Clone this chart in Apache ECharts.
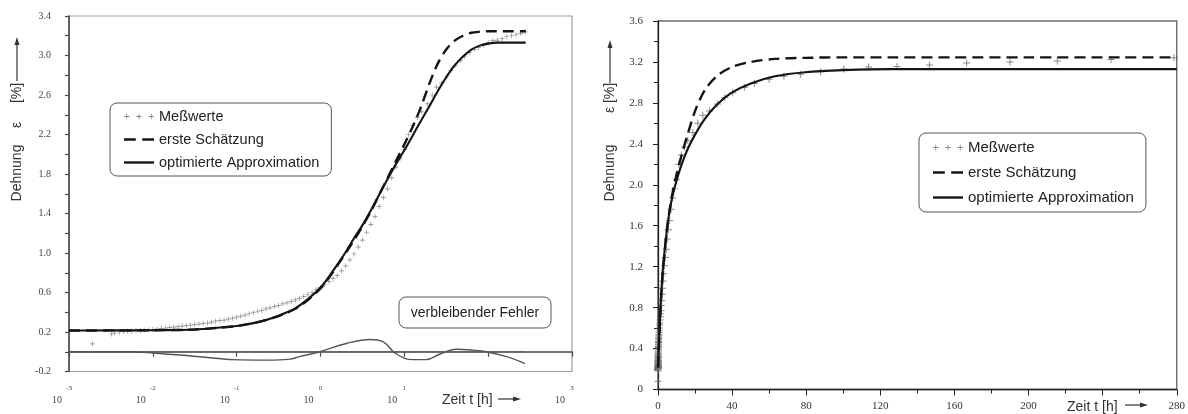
<!DOCTYPE html>
<html>
<head>
<meta charset="utf-8">
<script src="https://cdn.jsdelivr.net/npm/echarts@6/dist/echarts.min.js"></script>
<style>
  html, body { margin: 0; padding: 0; background: #fff; }
  #chart { width: 1188px; height: 414px; }
</style>
</head>
<body>
<div id="chart"></div>
<script>
// Messzeitpunkte t [h] und gemessene Dehnung ε [%]
const messZeit = [
  0.0019, 0.0032, 0.0035, 0.0040, 0.0045, 0.0050, 0.0056, 0.0063, 0.0071, 0.0079,
  0.0089, 0.010, 0.0112, 0.0126, 0.0141, 0.0158, 0.0178, 0.020, 0.0224, 0.0251,
  0.0282, 0.0316, 0.0355, 0.0398, 0.0447, 0.0501, 0.0562, 0.0631, 0.0708, 0.0794,
  0.0891, 0.100, 0.112, 0.126, 0.141, 0.158, 0.178, 0.200, 0.224, 0.251,
  0.282, 0.316, 0.355, 0.398, 0.447, 0.501, 0.562, 0.631, 0.708, 0.794,
  0.891, 1.00, 1.12, 1.26, 1.41, 1.58, 1.78, 2.00, 2.24, 2.51,
  2.82, 3.16, 3.55, 3.98, 4.47, 5.01, 5.62, 6.31, 7.08, 7.94,
  8.91, 10.0, 11.2, 12.6, 14.3, 16.1, 18.8, 21.5, 24.2, 27.8,
  32.2, 36.0, 40.3, 46.6, 52, 60, 68, 77, 87.8, 100.3,
  113.7, 129, 146.5, 166.6, 190, 215.5, 244.5, 278.5
];
const messDehnung = [
  0.08, 0.18, 0.19, 0.20, 0.205, 0.21, 0.21, 0.215, 0.215, 0.22,
  0.22, 0.225, 0.23, 0.235, 0.24, 0.245, 0.25, 0.255, 0.26, 0.265,
  0.27, 0.275, 0.28, 0.285, 0.29, 0.30, 0.31, 0.315, 0.32, 0.33,
  0.34, 0.35, 0.36, 0.37, 0.385, 0.395, 0.41, 0.42, 0.435, 0.445,
  0.46, 0.47, 0.485, 0.495, 0.51, 0.525, 0.54, 0.56, 0.58, 0.60,
  0.63, 0.65, 0.68, 0.71, 0.74, 0.77, 0.82, 0.87, 0.93, 0.99,
  1.06, 1.13, 1.21, 1.29, 1.37, 1.47, 1.56, 1.65, 1.76, 1.87,
  1.96, 2.05, 2.20, 2.29, 2.37, 2.43, 2.51, 2.60, 2.68, 2.72,
  2.79, 2.85, 2.90, 2.95, 2.99, 3.03, 3.06, 3.08, 3.105, 3.13,
  3.15, 3.155, 3.17, 3.19, 3.20, 3.21, 3.225, 3.24
];

// Modellkurven: Stützstellen t [h]
const kurvenZeit = [
  0.001, 0.00316, 0.01, 0.0316, 0.1, 0.126, 0.158, 0.2, 0.251, 0.316,
  0.398, 0.501, 0.631, 0.794, 1.0, 1.26, 1.58, 2.0, 2.51, 3.16,
  3.98, 5.01, 6.31, 7.94, 10, 12.6, 15.8, 20, 25.1, 31.6,
  39.8, 50.1, 63.1, 79.4, 100, 126, 158, 200, 251, 280
];
const ersteSchaetzung = [
  0.215, 0.216, 0.218, 0.225, 0.26, 0.275, 0.29, 0.31, 0.335, 0.36,
  0.395, 0.435, 0.49, 0.56, 0.64, 0.75, 0.87, 1.00, 1.13, 1.27,
  1.42, 1.59, 1.76, 1.93, 2.10, 2.28, 2.48, 2.72, 2.92, 3.06,
  3.15, 3.20, 3.23, 3.24, 3.245, 3.245, 3.245, 3.245, 3.245, 3.245
];
const optimierteApprox = [
  0.215, 0.216, 0.218, 0.225, 0.26, 0.275, 0.29, 0.31, 0.335, 0.365,
  0.40, 0.44, 0.50, 0.57, 0.65, 0.76, 0.88, 1.01, 1.15, 1.28,
  1.43, 1.59, 1.75, 1.90, 2.04, 2.19, 2.34, 2.49, 2.64, 2.78,
  2.90, 2.99, 3.06, 3.10, 3.12, 3.13, 3.13, 3.13, 3.13, 3.13
];

// verbleibender Fehler (Messung gegen optimierte Approximation)
const fehlerZeit = [
  0.001, 0.005, 0.01, 0.036, 0.091, 0.23, 0.43, 0.56, 0.98, 2.04,
  3.9, 5.6, 7.9, 12.6, 18.2, 26.3, 41.7, 66, 95.5, 166, 275
];
const fehlerWert = [
  0.0, 0.0, -0.012, -0.05, -0.08, -0.085, -0.075, -0.05, 0.0, 0.084,
  0.124, 0.10, -0.018, -0.08, -0.08, -0.025, 0.025, 0.016, 0.0, -0.05, -0.12
];
const nullLinieZeit = [0.001, 275];
const nullLinieWert = [0, 0];

// Beschriftungen
const serienNamen = ['Meßwerte', 'erste Schätzung', 'optimierte Approximation'];
const achsenTitelY = ['Dehnung', 'ε', '[%]'];
const achsenTitelX = 'Zeit t [h]';
const fehlerTitel = 'verbleibender Fehler';
const ausgeblendetLog = [2];     // Exponent ohne Beschriftung
const ausgeblendetLinear = [240]; // Zeitwert ohne Beschriftung

const pairs = (xs, ys) => xs.map((x, i) => [x, ys[i]]);

const PLUS = 'path://M4.3,0h1.4v4.3h4.3v1.4h-4.3v4.3h-1.4v-4.3h-4.3v-1.4h4.3z';
const PLUS3 = 'path://M3,0h1v3h3v1h-3v3h-1v-3h-3v-1h3z' +
  'M19,0h1v3h3v1h-3v3h-1v-3h-3v-1h3z' +
  'M35,0h1v3h3v1h-3v3h-1v-3h-3v-1h3z';
const DASH2 = 'path://M0,0h11v2.4h-11z M17,0h11v2.4h-11z';
const FULL = 'path://M0,0h28v2.2h-28z';

const SERIF = '"Liberation Serif", "DejaVu Serif", serif';
const SANS = '"Liberation Sans", Arial, sans-serif';
const INK = '#141414';
const AX = '#4a4a4a';

function legendBox(left, top, pad, fontSize, gap) {
  return {
    orient: 'vertical', left: left, top: top,
    padding: pad, itemWidth: 30, itemHeight: 12, itemGap: gap,
    borderColor: '#555', borderWidth: 1, borderRadius: 7,
    backgroundColor: '#fff', selectedMode: false,
    textStyle: { fontFamily: SANS, fontSize: fontSize, color: '#222' },
    data: [
      { name: serienNamen[0], icon: PLUS3, itemStyle: { color: '#666' } },
      { name: serienNamen[1], icon: DASH2, itemStyle: { color: INK } },
      { name: serienNamen[2], icon: FULL, itemStyle: { color: INK } }
    ]
  };
}

function seriesFor(idx, plusSize) {
  return [
    {
      name: serienNamen[0], type: 'scatter', xAxisIndex: idx, yAxisIndex: idx,
      symbol: PLUS, symbolSize: plusSize, itemStyle: { color: '#6a6a6a' },
      data: pairs(messZeit, messDehnung), z: 3
    },
    {
      name: serienNamen[1], type: 'line', xAxisIndex: idx, yAxisIndex: idx,
      symbol: 'none', smooth: 0.3,
      lineStyle: { color: INK, width: 2.4, type: [11, 6] },
      itemStyle: { color: INK },
      data: pairs(kurvenZeit, ersteSchaetzung), z: 4
    },
    {
      name: serienNamen[2], type: 'line', xAxisIndex: idx, yAxisIndex: idx,
      symbol: 'none', smooth: 0.3,
      lineStyle: { color: INK, width: 2.1 },
      itemStyle: { color: INK },
      data: pairs(kurvenZeit, optimierteApprox), z: 5
    }
  ];
}

function arrowUp(x, yTop, yBottom) {
  return [
    { type: 'line', shape: { x1: x, y1: yBottom, x2: x, y2: yTop + 6 }, style: { stroke: '#333', lineWidth: 1.2 } },
    { type: 'polygon', shape: { points: [[x, yTop], [x - 2.5, yTop + 8], [x + 2.5, yTop + 8]] }, style: { fill: '#333' } }
  ];
}
function arrowRight(xLeft, xRight, y) {
  return [
    { type: 'line', shape: { x1: xLeft, y1: y, x2: xRight - 6, y2: y }, style: { stroke: '#333', lineWidth: 1.2 } },
    { type: 'polygon', shape: { points: [[xRight, y], [xRight - 8, y - 2.5], [xRight - 8, y + 2.5]] }, style: { fill: '#333' } }
  ];
}
function vText(text, x, y) {
  return {
    type: 'text', x: x, y: y, rotation: Math.PI / 2,
    style: { text: text, font: '14px ' + SANS, fill: '#333', align: 'center', verticalAlign: 'middle' }
  };
}
function hText(text, x, y) {
  return {
    type: 'text', x: x, y: y,
    style: { text: text, font: '14px ' + SANS, fill: '#333', align: 'left', verticalAlign: 'middle' }
  };
}

const chart = echarts.init(document.getElementById('chart'), null, { renderer: 'canvas' });

const option = {
  animation: false,
  backgroundColor: '#fff',
  grid: [
    { left: 69, top: 16, width: 503, height: 355.5, show: true, borderColor: '#a0a0a0', borderWidth: 1.2, containLabel: false },
    { left: 658, top: 21, width: 521.5, height: 368.5, show: true, borderColor: '#6a6a6a', borderWidth: 1.4, containLabel: false }
  ],
  legend: [
    legendBox(110, 103, [6, 12, 6, 14], 14.5, 8),
    legendBox(919, 133, [7, 12, 7, 14], 15, 10)
  ],
  xAxis: [
    {
      type: 'log', logBase: 10, gridIndex: 0, min: 0.001, max: 1000, splitNumber: 6,
      axisLine: { lineStyle: { color: AX, width: 1.6 } },
      axisTick: { inside: false, length: 5, lineStyle: { color: AX, width: 1.2 } },
      splitLine: { show: false },
      axisLabel: {
        margin: 12, color: '#444',
        formatter: function (v) {
          const e = Math.round(Math.log10(v));
          if (ausgeblendetLog.indexOf(e) >= 0) return '';
          return '{e|' + e + '}\n{b|10}';
        },
        rich: {
          e: { fontFamily: SERIF, fontSize: 7, lineHeight: 10, color: '#444' },
          b: { fontFamily: SERIF, fontSize: 10, lineHeight: 14, color: '#444', padding: [0, 24, 0, 0] }
        }
      }
    },
    {
      type: 'value', gridIndex: 1, min: 0, max: 280, interval: 40,
      axisLine: { lineStyle: { color: '#222', width: 1.3 } },
      axisTick: { inside: false, length: 6, lineStyle: { color: '#222' } },
      minorTick: { show: true, splitNumber: 2, length: 4, lineStyle: { color: '#222' } },
      splitLine: { show: false },
      axisLabel: {
        margin: 11, color: '#333', fontFamily: SERIF, fontSize: 11,
        formatter: function (v) { return ausgeblendetLinear.indexOf(v) >= 0 ? '' : String(v); }
      }
    }
  ],
  yAxis: [
    {
      type: 'value', gridIndex: 0, min: -0.2, max: 3.4, interval: 0.2,
      axisLine: { lineStyle: { color: AX, width: 1.6 } },
      axisTick: { inside: false, length: 4, lineStyle: { color: AX, width: 1.2 } },
      splitLine: { show: false },
      axisLabel: {
        margin: 18, color: '#444', fontFamily: SERIF, fontSize: 10,
        formatter: function (v) {
          const k = Math.round((v + 0.2) / 0.2);
          return k % 2 === 0 ? v.toFixed(1) : '';
        }
      }
    },
    {
      type: 'value', gridIndex: 1, min: 0, max: 3.6, interval: 0.4,
      axisLine: { lineStyle: { color: '#222', width: 1.3 } },
      axisTick: { inside: false, length: 5, lineStyle: { color: '#222' } },
      minorTick: { show: true, splitNumber: 2, length: 4, lineStyle: { color: '#222' } },
      splitLine: { show: false },
      axisLabel: {
        margin: 15, color: '#333', fontFamily: SERIF, fontSize: 11,
        formatter: function (v) { return v === 0 ? '0' : v.toFixed(1); }
      }
    }
  ],
  series: [
    {
      name: 'Nulllinie', type: 'line', xAxisIndex: 0, yAxisIndex: 0, symbol: 'none',
      lineStyle: { color: '#666', width: 1.3 }, data: pairs(nullLinieZeit, nullLinieWert), z: 2
    },
    {
      name: fehlerTitel, type: 'line', xAxisIndex: 0, yAxisIndex: 0, symbol: 'none',
      smooth: 0.4, lineStyle: { color: '#555', width: 1.4 }, data: pairs(fehlerZeit, fehlerWert), z: 2
    }
  ].concat(seriesFor(0, 5), seriesFor(1, 7)),
  graphic: [
    // Achsentitel linkes Diagramm
    vText(achsenTitelY[0], 17, 173),
    vText(achsenTitelY[1], 17, 125),
    vText(achsenTitelY[2], 17, 93),
    ...arrowUp(17, 37, 81),
    hText(achsenTitelX, 442, 400),
    ...arrowRight(498, 521, 399),
    // Achsentitel rechtes Diagramm
    vText(achsenTitelY[0], 610, 173),
    vText(achsenTitelY[1], 610, 110),
    vText(achsenTitelY[2], 610, 93),
    ...arrowUp(610, 40, 83),
    hText(achsenTitelX, 1067, 407),
    ...arrowRight(1125, 1148, 405),
    // Kennzeichnung der Fehlerkurve
    {
      type: 'group', x: 399, y: 297,
      children: [
        { type: 'rect', shape: { x: 0, y: 0, width: 152, height: 31, r: 7 }, style: { fill: '#fff', stroke: '#555', lineWidth: 1 } },
        { type: 'text', x: 76, y: 16, style: { text: fehlerTitel, font: '14px ' + SANS, fill: '#222', align: 'center', verticalAlign: 'middle' } }
      ]
    }
  ]
};

chart.setOption(option);
</script>
</body>
</html>
